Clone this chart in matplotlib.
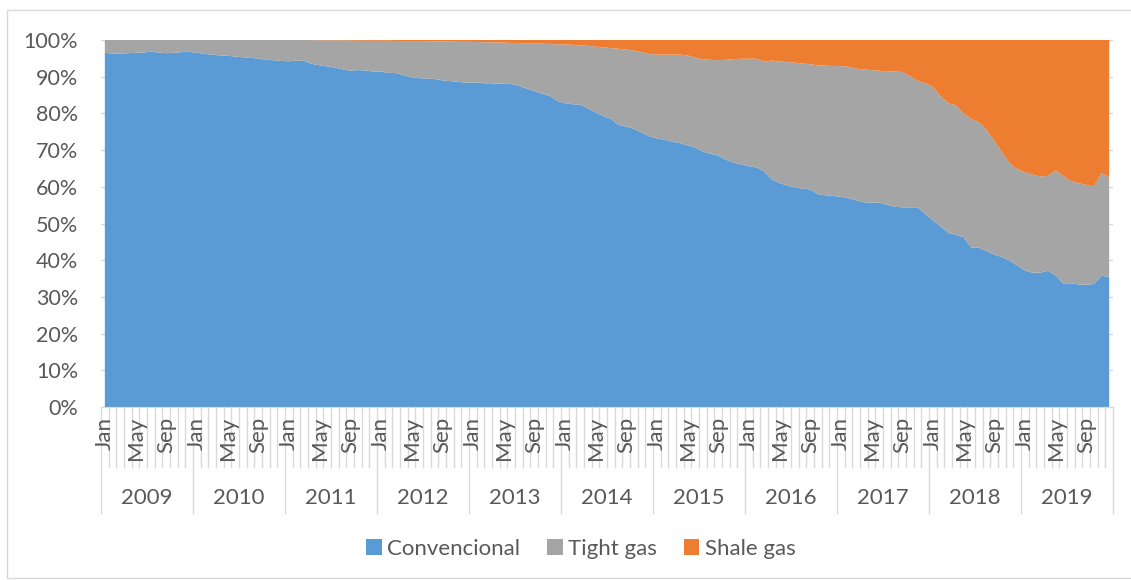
import matplotlib
matplotlib.use("Agg")
import matplotlib.pyplot as plt
import matplotlib.transforms as mtransforms
from matplotlib.patches import Patch, Rectangle

# ---------------- data ----------------
years = ["2009", "2010", "2011", "2012", "2013", "2014",
         "2015", "2016", "2017", "2018", "2019"]
month_labels = ["Jan", "May", "Sep"]
series_names = ["Convencional", "Tight gas", "Shale gas"]

# share of conventional gas (%), monthly Jan 2009 .. Dec 2019
convencional = [
    96.5, 96.3, 96.3, 96.4, 96.5, 96.6, 96.8, 96.6, 96.4, 96.5, 96.7, 96.8,  # 2009
    96.5, 96.2, 96.0, 95.8, 95.7, 95.5, 95.3, 95.1, 95.0, 94.6, 94.5, 94.3,  # 2010
    94.2, 94.4, 94.3, 93.5, 93.1, 92.8, 92.5, 92.0, 91.6, 91.8, 91.7, 91.4,  # 2011
    91.4, 91.0, 91.0, 90.4, 89.8, 89.6, 89.5, 89.4, 89.0, 88.8, 88.6, 88.4,  # 2012
    88.4, 88.4, 88.0, 88.1, 88.2, 88.0, 87.5, 86.8, 86.1, 85.4, 84.8, 83.4,  # 2013
    82.8, 82.5, 82.4, 81.4, 80.3, 79.3, 78.5, 76.9, 76.4, 75.8, 74.8, 73.8,  # 2014
    73.2, 72.8, 72.3, 71.9, 71.3, 70.7, 69.6, 69.0, 68.5, 67.4, 66.6, 66.1,  # 2015
    65.6, 65.3, 64.2, 62.0, 61.0, 60.4, 59.8, 59.5, 59.3, 58.0, 57.7, 57.5,  # 2016
    57.3, 56.9, 56.3, 55.8, 55.7, 55.7, 55.1, 54.6, 54.4, 54.4, 54.4, 52.6,  # 2017
    50.9, 49.2, 47.5, 46.9, 46.3, 43.5, 43.4, 42.5, 41.5, 40.9, 39.9, 38.6,  # 2018
    37.2, 36.6, 36.6, 37.1, 35.9, 33.7, 33.7, 33.4, 33.3, 33.5, 35.8, 35.4,  # 2019
]

# cumulative share conventional + tight gas (%), remainder is shale gas
conv_plus_tight = [
    100.0, 100.0, 100.0, 100.0, 100.0, 100.0, 100.0, 100.0, 100.0, 100.0, 100.0, 100.0,  # 2009
    100.0, 100.0, 100.0, 100.0, 100.0, 100.0, 100.0, 100.0, 100.0, 100.0, 100.0, 100.0,  # 2010
    100.0, 100.0, 100.0, 99.95, 99.9, 99.9, 99.9, 99.9, 99.85, 99.8, 99.8, 99.8,        # 2011
    99.8, 99.8, 99.75, 99.7, 99.7, 99.7, 99.7, 99.6, 99.6, 99.6, 99.5, 99.5,            # 2012
    99.5, 99.4, 99.4, 99.3, 99.3, 99.2, 99.2, 99.1, 99.0, 99.0, 98.9, 98.8,             # 2013
    98.8, 98.7, 98.5, 98.4, 98.2, 98.0, 97.8, 97.6, 97.4, 97.1, 96.7, 96.2,             # 2014
    96.0, 96.0, 96.0, 96.0, 95.8, 95.2, 94.7, 94.6, 94.5, 94.6, 94.8, 94.9,             # 2015
    94.9, 94.9, 94.1, 94.4, 94.1, 94.0, 93.8, 93.6, 93.4, 93.1, 93.0, 92.9,             # 2016
    92.9, 92.7, 92.2, 92.0, 91.8, 91.6, 91.5, 91.4, 91.3, 90.2, 88.9, 88.2,             # 2017
    87.2, 84.7, 82.8, 82.2, 80.0, 78.5, 77.6, 75.5, 72.6, 69.5, 66.5, 64.8,             # 2018
    64.0, 63.3, 62.8, 63.0, 64.5, 63.0, 61.6, 61.0, 60.5, 60.1, 63.8, 62.6,             # 2019
]

tight = [t - c for t, c in zip(conv_plus_tight, convencional)]
shale = [100.0 - t for t in conv_plus_tight]

# ---------------- style ----------------
W, H = 1131, 580
colors = ["#5B9BD5", "#A5A5A5", "#ED7D31"]
text_color = "#595959"
line_color = "#D9D9D9"
FS = 16
plt.rcParams["font.family"] = ["Lato", "DejaVu Sans"]

fig = plt.figure(figsize=(W / 100, H / 100), dpi=100)

# outer chart frame
fig.patches.append(Rectangle((7 / W, 1 - 578 / H), 1.2, (578 - 10) / H,
                             transform=fig.transFigure, fill=False,
                             edgecolor=line_color, linewidth=1.0))

left, right, top, bottom = 101, 1113, 40, 407
ax = fig.add_axes([left / W, 1 - bottom / H, (right - left) / W, (bottom - top) / H])

n = len(convencional)
x = list(range(n))
ax.stackplot(x, [c / 100 for c in convencional], [t / 100 for t in tight],
             [s / 100 for s in shale], colors=colors, labels=series_names,
             linewidth=0, zorder=2)

ax.set_xlim(-0.5, n - 0.5)
ax.set_ylim(0, 1)
ax.set_yticks([i / 10 for i in range(11)])
ax.set_yticklabels([f"{i * 10}%" for i in range(11)])
ax.yaxis.grid(True, color=line_color, linewidth=1.0, zorder=0)
ax.set_axisbelow(True)
for sp in ["left", "right", "top"]:
    ax.spines[sp].set_visible(False)
ax.spines["bottom"].set_color(line_color)
ax.tick_params(axis="y", length=0, pad=16.5, labelsize=FS - 0.5, labelcolor=text_color)
ax.set_xticks([])

# category axis: month ticks and labels, year groups
blend = mtransforms.blended_transform_factory(ax.transData, fig.transFigure)
def fy(px):
    return 1 - px / H

for b in range(n + 1):
    xb = b - 0.5
    y_end = 513 if b % 12 == 0 else 467
    ax.plot([xb, xb], [fy(bottom), fy(y_end)], transform=blend, color=line_color,
            linewidth=1.0, clip_on=False)

for i in range(n):
    if i % 4 == 0:
        ax.text(i, fy(417), month_labels[(i % 12) // 4], transform=blend,
                rotation=90, ha="center", va="top", fontsize=FS, color=text_color)

for k, yr in enumerate(years):
    ax.text(k * 12 + 5.5, fy(498), yr, transform=blend, ha="center", va="center",
            fontsize=FS, color=text_color)

handles = [Patch(facecolor=c, edgecolor="none", label=l) for c, l in zip(colors, series_names)]
fig.legend(handles=handles, loc="center", bbox_to_anchor=(581 / W, fy(549)), ncol=3,
           frameon=False, fontsize=FS, handlelength=0.7, handleheight=0.7,
           handletextpad=0.25, columnspacing=1.2, labelcolor=text_color)

fig.savefig("out.png", dpi=100)
